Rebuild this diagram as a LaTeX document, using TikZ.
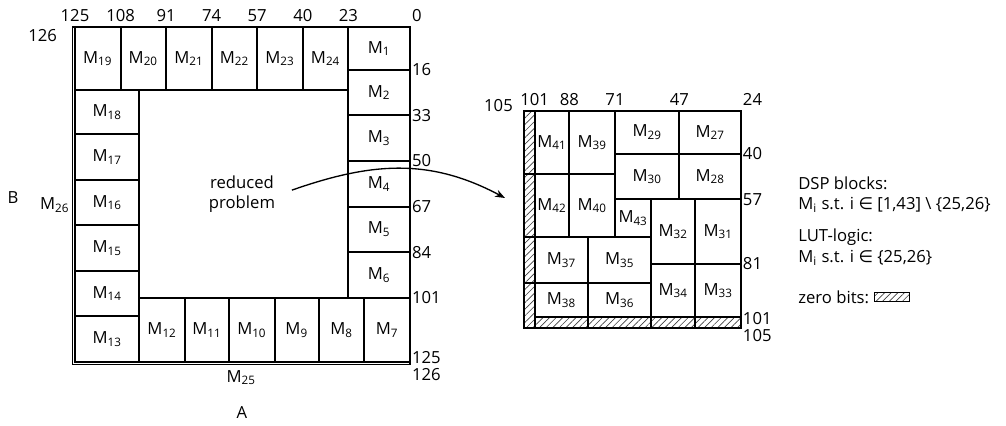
\documentclass[tikz,border=0pt]{standalone}
\usepackage{fontspec}
\setmainfont{Open Sans}
\newfontfamily\symfont{DejaVu Sans}
\usetikzlibrary{arrows.meta,patterns.meta,positioning}

\newcommand{\Mi}[1]{M\textsubscript{#1}}
% multiplier tile: x1, y1, x2, y2 (in bits), index
\newcommand{\mcell}[5]{%
  \draw[cell] (#1,#2) rectangle (#3,#4);
  \node[lbl] (m#5) at ({(#1+#3)/2},{(#2+#4)/2}) {\Mi{#5}};}

\begin{document}
\begin{tikzpicture}[x=0.6pt, y=-0.6pt,
  cell/.style={draw, line width=1.2pt},
  frame/.style={draw, line width=0.8pt},
  lbl/.style={font=\normalsize, inner sep=0pt},
  num/.style={font=\normalsize, inner sep=1pt},
  hatch/.style={draw, line width=1.2pt, pattern={Lines[angle=45,distance=2.8pt,line width=0.4pt]}, pattern color=black!75},
  legend/.style={font=\normalsize, anchor=west, inner sep=0pt},
  arrow/.style={-{Stealth[length=6pt,width=4.5pt]}, line width=0.8pt}
]
\useasboundingbox (0,0) rectangle (1006,425);

% full 126x126 problem
\begin{scope}[shift={(246pt,-16.2pt)}, x=-1.608pt, y=-1.608pt]
  \draw[frame] (126,0) rectangle (0,126);
  \draw[frame] (125,0) -- (125,125) -- (0,125);
  \foreach \a/\b/\i in {125/108/19, 108/91/20, 91/74/21, 74/57/22, 57/40/23, 40/23/24}
    {\mcell{\a}{0}{\b}{23.5}{\i}}
  \foreach \a/\b/\i in {0/16/1, 16/33/2, 33/50/3, 50/67/4, 67/84/5, 84/101/6}
    {\mcell{23}{\a}{0}{\b}{\i}}
  \foreach \a/\b/\i in {23.5/40/18, 40/57/17, 57/74/16, 74/91/15, 91/108/14, 108/125/13}
    {\mcell{125}{\a}{101}{\b}{\i}}
  \foreach \a/\b/\i in {101/84/12, 84/67.5/11, 67.5/50.5/10, 50.5/34/9, 34/17/8, 17/0/7}
    {\mcell{\a}{101}{\b}{125}{\i}}
  % bit positions
  \foreach \b in {125,108,91,74,57,40,23}
    \node[num, above, yshift=2pt] (t\b) at (\b,0) {\b};
  \node[num, above right, yshift=2pt] (t0) at (0,0) {0};
  \node[num, anchor=north east] (c126) at (131,0) {126};
  \foreach \b in {16,33,50,67,84,101}
    \node[num, right] (r\b) at (0,\b) {\b};
  \node[num, right] (r125) at (0,123.5) {125};
  \node[num, right] (r126) at (0,129.5) {126};
  \node[lbl] (m25) at (63,130.8) {\Mi{25}};
  \node[lbl, anchor=east] (m26) at (127,66.4) {\Mi{26}};
\end{scope}

% reduced problem
\begin{scope}[shift={(483.18pt,-28.02pt)}, x=-1.608pt, y=-1.608pt]
  \draw[cell] (105,24) rectangle (24,105);
  \foreach \a/\b in {24/47.5, 47.5/71, 71/88, 88/105}
    \draw[hatch] (105,\a) rectangle (101,\b);
  \foreach \a/\b in {101/81, 81/57.5, 57.5/41, 41/24}
    \draw[hatch] (\a,101) rectangle (\b,105);
  \foreach \a/\b/\c/\d/\i in {101/24/88/47.5/41, 88/24/71/47.5/39, 71/24/47/40/29, 47/24/24/40/27,
      71/40/47/57/30, 47/40/24/57/28, 101/47.5/88/71/42, 88/47.5/71/71/40, 71/57/57.5/71/43,
      57.5/57/41/81/32, 41/57/24/81/31, 101/71/81/88/37, 81/71/57.5/88/35, 101/88/81/101/38,
      81/88/57.5/101/36, 57.5/81/41/101/34, 41/81/24/101/33}
    {\mcell{\a}{\b}{\c}{\d}{\i}}
  \foreach \b in {101,88,71,47}
    \node[num, above, yshift=2pt] (u\b) at (\b,24) {\b};
  \node[num, above right, yshift=2pt] (u24) at (24,24) {24};
  \node[num, anchor=east] (c105) at (108.4,21.8) {105};
  \foreach \b in {40,57,81}
    \node[num, right] (v\b) at (24,\b) {\b};
  \node[num, right] (v101) at (24,101.6) {101};
  \node[num, right] (v105) at (24,107.8) {105};
\end{scope}

\node[align=center] (rp) at (242,194) {reduced\\problem};
\coordinate (tip) at (505,198);
\draw[arrow, shorten <=7pt] (rp.east) .. controls (372,162) and (430,158) .. (tip);

\node (labelB) at (13,198) {B};
\node (labelA) at (242,413) {A};

% legend
\node[legend] (dsp) at (798,183) {DSP blocks:};
\node[legend] (dspset) at (798,205) {\Mi{i} s.t. i {\symfont ∈} [1,43] \textbackslash\ \{25,26\}};
\node[legend] (lut) at (798,237) {LUT-logic:};
\node[legend] (lutset) at (798,258) {\Mi{i} s.t. i {\symfont ∈} \{25,26\}};
\node[legend] (zb) at (798,297) {zero bits:};
\node[hatch, line width=0.8pt, right=2.5pt of zb, minimum width=21pt, minimum height=5.4pt, inner sep=0pt] (zbbox) {};
\end{tikzpicture}
\end{document}
